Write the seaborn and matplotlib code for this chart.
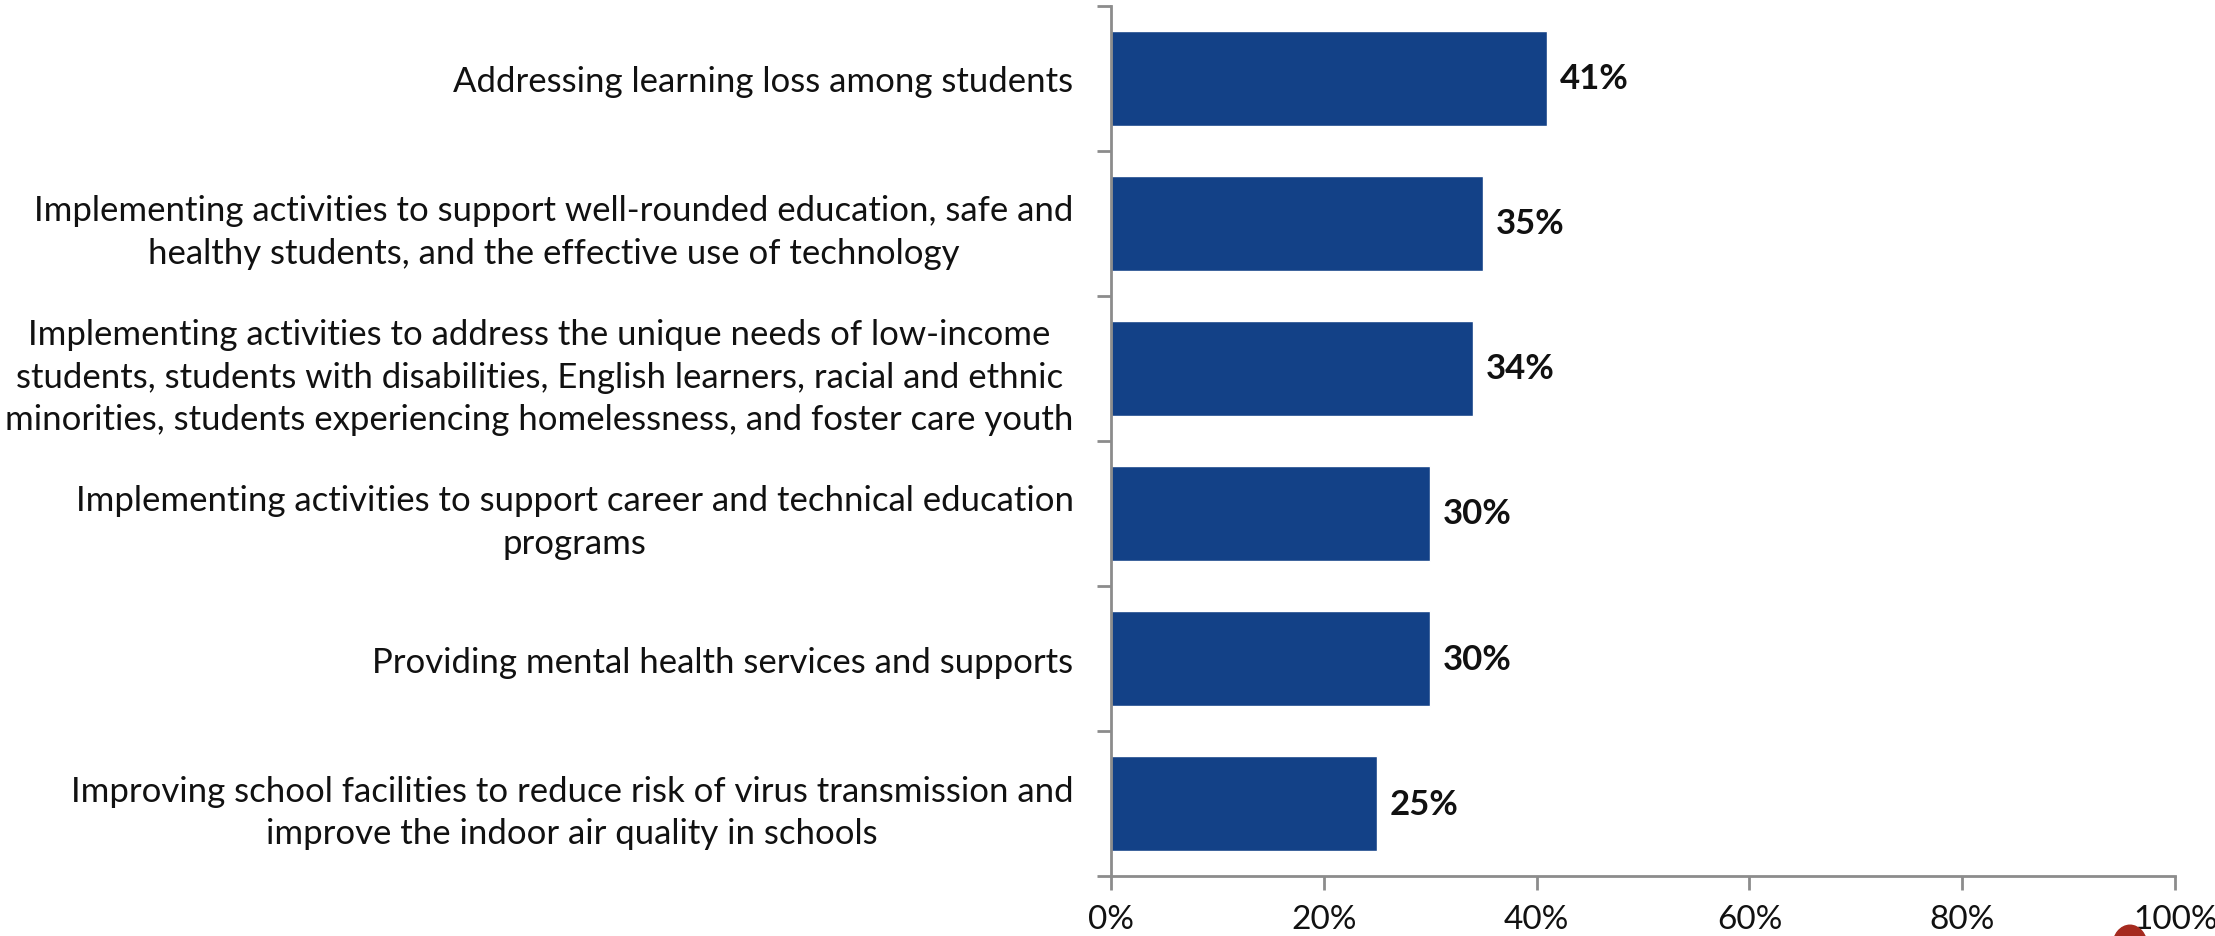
import numpy as np
import pandas as pd
import matplotlib
matplotlib.use("Agg")
import matplotlib.pyplot as plt
import seaborn as sns
from matplotlib.patches import Ellipse

# Datos del gráfico
categorias = [
    "Addressing learning loss among students",
    "Implementing activities to support well-rounded education, safe and\nhealthy students, and the effective use of technology",
    "Implementing activities to address the unique needs of low-income\nstudents, students with disabilities, English learners, racial and ethnic\nminorities, students experiencing homelessness, and foster care youth",
    "Implementing activities to support career and technical education\nprograms",
    "Providing mental health services and supports",
    "Improving school facilities to reduce risk of virus transmission and\nimprove the indoor air quality in schools",
]
valores = [41, 35, 34, 30, 30, 25]
ticks_x = [0, 20, 40, 60, 80, 100]
etiquetas_x = ["0%", "20%", "40%", "60%", "80%", "100%"]

df = pd.DataFrame({"categoria": categorias, "valor": valores})

sns.set_style("white")
plt.rcParams["font.family"] = ["Lato", "DejaVu Sans"]

fig = plt.figure(figsize=(22.15, 9.37), dpi=100)
ax = fig.add_axes([0.5016, 0.064, 0.4804, 0.9286])

sns.barplot(data=df, x="valor", y="categoria", orient="h", color="#134187",
            width=0.655, saturation=1, ax=ax)

gris = "#8c8c8c"
ax.set_xlim(0, 100)
ax.set_ylim(5.5, -0.5)
ax.set_xticks(ticks_x)
ax.set_xticklabels(etiquetas_x, fontsize=24, color="#111111")
ax.set_xlabel("")
ax.set_ylabel("")

# etiquetas de categorías centradas
ax.set_yticks(range(len(categorias)))
ax.set_yticklabels(categorias, fontsize=25, color="#111111", multialignment="center",
                   linespacing=1.4)
ax.tick_params(axis="y", which="major", length=0, pad=27, left=False)
ax.set_yticks(np.arange(-0.5, len(categorias)), minor=True)
ax.tick_params(axis="y", which="minor", length=10, width=2, color=gris,
               direction="out", left=True)
ax.tick_params(axis="x", which="major", length=10, width=2, color=gris,
               direction="out", pad=10, bottom=True)

for s in ["top", "right"]:
    ax.spines[s].set_visible(False)
for s in ["left", "bottom"]:
    ax.spines[s].set_color(gris)
    ax.spines[s].set_linewidth(2)

for i, v in enumerate(valores):
    ax.text(v + 1.2, i, f"{v}%", va="center", ha="left", fontsize=25,
            fontweight="bold", color="#111111")

# mancha roja en la esquina
fig.patches.append(Ellipse((0.9616, -0.011), 0.0155, 0.045, color="#a52a1f",
                           transform=fig.transFigure, figure=fig, zorder=0))

fig.savefig("out.png", dpi=100)
